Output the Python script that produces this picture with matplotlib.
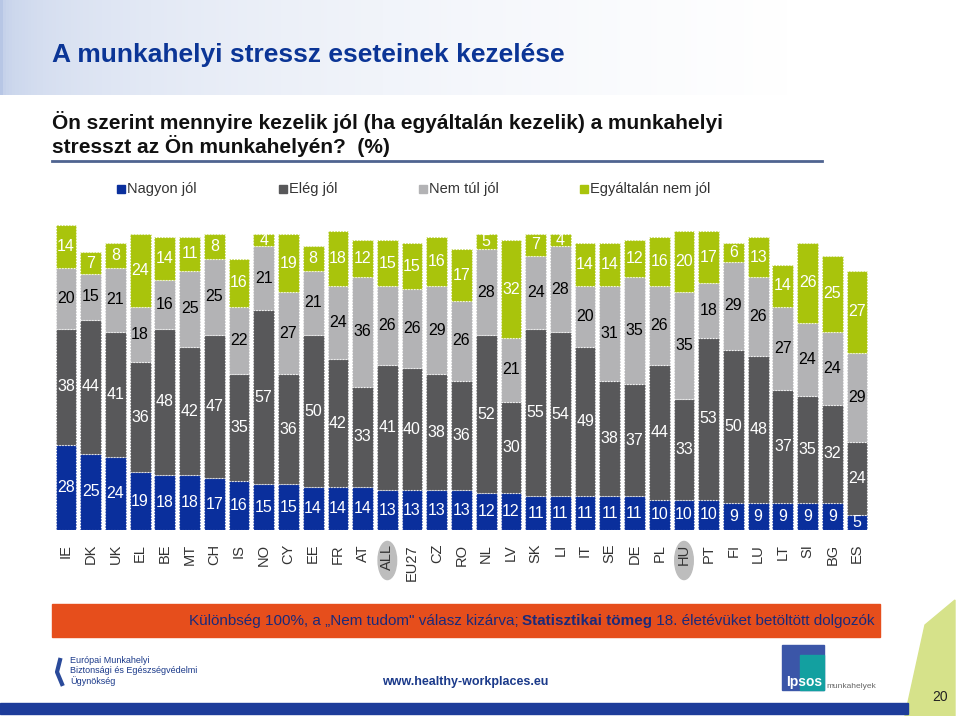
import numpy as np
import matplotlib
matplotlib.use("Agg")
import matplotlib.pyplot as plt
from matplotlib.patches import Rectangle, Ellipse, Polygon

plt.rcParams['font.family'] = ['Liberation Sans', 'DejaVu Sans']

orszagok = ["IE", "DK", "UK", "EL", "BE", "MT", "CH", "IS", "NO", "CY", "EE", "FR", "AT",
            "ALL", "EU27", "CZ", "RO", "NL", "LV", "SK", "LI", "IT", "SE", "DE", "PL", "HU",
            "PT", "FI", "LU", "LT", "SI", "BG", "ES"]
nagyon_jol = [28, 25, 24, 19, 18, 18, 17, 16, 15, 15, 14, 14, 14, 13, 13, 13, 13, 12, 12,
              11, 11, 11, 11, 11, 10, 10, 10, 9, 9, 9, 9, 9, 5]
eleg_jol = [38, 44, 41, 36, 48, 42, 47, 35, 57, 36, 50, 42, 33, 41, 40, 38, 36, 52, 30,
            55, 54, 49, 38, 37, 44, 33, 53, 50, 48, 37, 35, 32, 24]
nem_tul_jol = [20, 15, 21, 18, 16, 25, 25, 22, 21, 27, 21, 24, 36, 26, 26, 29, 26, 28, 21,
               24, 28, 20, 31, 35, 26, 35, 18, 29, 26, 27, 24, 24, 29]
egyaltalan_nem = [14, 7, 8, 24, 14, 11, 8, 16, 4, 19, 8, 18, 12, 15, 15, 16, 17, 5, 32,
                  7, 4, 14, 14, 12, 16, 20, 17, 6, 13, 14, 26, 25, 27]
kiemelt = ["ALL", "HU"]

sorozatok = [("Nagyon jól", nagyon_jol, "#0a2f9c", "white"),
             ("Elég jól", eleg_jol, "#58585a", "white"),
             ("Nem túl jól", nem_tul_jol, "#b3b3b5", "black"),
             ("Egyáltalán nem jól", egyaltalan_nem, "#a9c40c", "white")]

W, H = 960, 716
fig = plt.figure(figsize=(W / 100, H / 100), dpi=100)

def fx(px):
    return px / W

def fy(py):
    return 1 - py / H

# fejléc színátmenet
hdr = fig.add_axes([0, fy(95), fx(790), fy(0) - fy(95)])
grad = np.linspace(0, 1, 256) ** 0.3
img = np.zeros((1, 256, 3))
c0 = np.array([0.72, 0.78, 0.90])
for i, g in enumerate(grad):
    img[0, i] = c0 * (1 - g) + np.array([1, 1, 1]) * g
hdr.imshow(img, aspect="auto", extent=[0, 1, 0, 1])
hdr.axis("off")

fig.text(fx(52), fy(55), "A munkahelyi stressz eseteinek kezelése", fontsize=19,
         fontweight="bold", color="#0b3596", va="center", ha="left")
fig.text(fx(52), fy(122), "Ön szerint mennyire kezelik jól (ha egyáltalán kezelik) a munkahelyi",
         fontsize=15, fontweight="bold", color="#111111", va="center", ha="left")
fig.text(fx(52), fy(146), "stresszt az Ön munkahelyén?  (%)",
         fontsize=15, fontweight="bold", color="#111111", va="center", ha="left")
fig.add_artist(plt.Line2D([fx(52), fx(822)], [fy(161), fy(161)], color="#4f6490", lw=2))

# jelmagyarázat
leg_x = [117, 279, 419, 580]
for (nev, _, szin, _), x in zip(sorozatok, leg_x):
    fig.add_artist(Rectangle((fx(x), fy(193)), fx(8), fy(185) - fy(193), color=szin))
    fig.text(fx(x + 10), fy(189), nev, fontsize=10.5, color="#333333", va="center", ha="left")

# oszlopdiagram
ax = fig.add_axes([fx(53.6), fy(530), fx(815.8), fy(225) - fy(530)])
x = np.arange(len(orszagok))
alap = np.zeros(len(orszagok))
for nev, ertek, szin, tszin in sorozatok:
    ertek = np.array(ertek, dtype=float)
    ax.bar(x, ertek, bottom=alap, width=0.84, color=szin, edgecolor="white",
           linewidth=0.8, linestyle=":")
    for xi, b, v in zip(x, alap, ertek):
        ax.text(xi, b + v / 2, f"{int(v)}", ha="center", va="center",
                fontsize=11.5, color=tszin)
    alap += ertek
ax.set_xlim(-0.5, len(orszagok) - 0.5)
ax.set_ylim(0, 100)
ax.set_xticks(x)
ax.set_xticklabels(orszagok, rotation=90, fontsize=10.5, color="#333333")
ax.tick_params(length=0, pad=10)
ax.set_yticks([])
for s in ax.spines.values():
    s.set_visible(False)
for o in kiemelt:
    i = orszagok.index(o)
    ax.add_patch(Ellipse((i, -10), 0.75, 12.5, color="#bdbdbd", clip_on=False, zorder=0))

# narancs sáv
fig.add_artist(Rectangle((fx(52), fy(637)), fx(828), fy(604) - fy(637), color="#e64e1c"))
reszek = [("Különbség 100%, a „Nem tudom\" válasz kizárva; ", "normal"),
          ("Statisztikai tömeg", "bold"),
          (" 18. életévüket betöltött dolgozók", "normal")]
fig.canvas.draw()
r = fig.canvas.get_renderer()
szeles = []
for t, w in reszek:
    tt = fig.text(0, 0, t, fontsize=11, fontweight=w)
    szeles.append(tt.get_window_extent(r).width)
    tt.remove()
px = 875 - sum(szeles)
for (t, w), sw in zip(reszek, szeles):
    fig.text(fx(px), fy(621), t, fontsize=11, fontweight=w, color="#1b2a7a",
             va="center", ha="left")
    px += sw

# lábléc
fig.text(fx(70), fy(671), "Európai Munkahelyi\nBiztonsági és Egészségvédelmi\nÜgynökség",
         fontsize=6.5, color="#1b3a8a", va="center", ha="left", linespacing=1.1)
fig.add_artist(plt.Line2D([fx(60), fx(57), fx(62)], [fy(660), fy(672), fy(684)],
                          color="#2a4a9a", lw=3))
fig.text(fx(465), fy(682), "www.healthy-workplaces.eu", fontsize=9, fontweight="bold",
         color="#1b3a8a", va="center", ha="center")
fig.add_artist(Polygon([(fx(925), fy(625)), (fx(955), fy(600)), (fx(955), fy(716)),
                        (fx(905), fy(716))], closed=True, color="#d6e28a"))
fig.add_artist(Rectangle((fx(0), fy(714)), fx(908), fy(703) - fy(714), color="#1d3c9a"))
fig.add_artist(Rectangle((fx(782), fy(690)), fx(42), fy(645) - fy(690), color="#3b56a8"))
fig.add_artist(Rectangle((fx(800), fy(690)), fx(24), fy(655) - fy(690), color="#13a0a0"))
fig.text(fx(786), fy(682), "Ipsos", fontsize=10, fontweight="bold", color="white",
         va="center", ha="left")
fig.text(fx(826), fy(686), "munkahelyek", fontsize=6, color="#666666", va="center", ha="left")
fig.text(fx(940), fy(697), "20", fontsize=10, color="#222222", va="center", ha="center")

fig.savefig("out.png", dpi=100)
